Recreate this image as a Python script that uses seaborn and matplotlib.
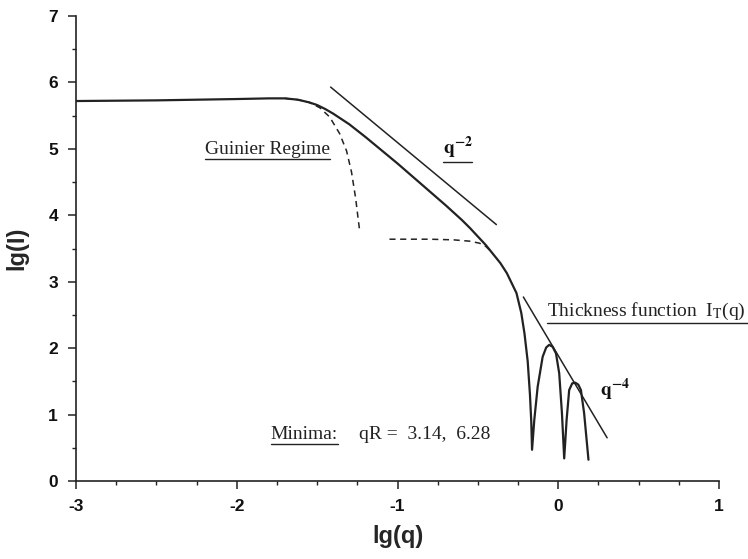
import matplotlib
matplotlib.use("Agg")
import matplotlib.pyplot as plt
import seaborn as sns
from matplotlib.ticker import MultipleLocator
from matplotlib.lines import Line2D

# full scattering curve
lgq_main = [-3.0, -2.5, -2.0, -1.8, -1.7, -1.62, -1.55, -1.5, -1.45, -1.4, -1.3, -1.2, -1.1, -1.0,
            -0.9, -0.8, -0.7, -0.65, -0.6, -0.55, -0.5, -0.45, -0.41, -0.36, -0.32, -0.29,
            -0.26, -0.23, -0.21, -0.19, -0.176, -0.168, -0.163,
            -0.149, -0.128, -0.097, -0.075, -0.056, -0.035, -0.014, 0.006, 0.023, 0.037,
            0.052, 0.068, 0.087, 0.106, 0.125, 0.141, 0.161, 0.188]
lgI_main = [5.72, 5.73, 5.75, 5.76, 5.76, 5.74, 5.70, 5.66, 5.60, 5.53, 5.37, 5.18, 4.98, 4.78,
            4.57, 4.36, 4.15, 4.04, 3.93, 3.81, 3.68, 3.55, 3.43, 3.28, 3.13, 2.98,
            2.83, 2.53, 2.22, 1.80, 1.30, 0.90, 0.47,
            0.92, 1.42, 1.87, 2.01, 2.05, 2.02, 1.92, 1.62, 1.02, 0.34,
            0.92, 1.37, 1.47, 1.48, 1.45, 1.37, 1.02, 0.32]

# Guinier approximation (dashed)
lgq_guinier = [-1.7, -1.62, -1.55, -1.484, -1.422, -1.36, -1.317, -1.286, -1.26, -1.245, -1.236]
lgI_guinier = [5.76, 5.74, 5.70, 5.62, 5.48, 5.23, 4.97, 4.65, 4.25, 3.95, 3.78]

# thickness function (dashed)
lgq_thick = [-1.05, -0.8, -0.65, -0.55, -0.49, -0.45, -0.42]
lgI_thick = [3.64, 3.64, 3.63, 3.61, 3.58, 3.53, 3.46]

# power law guide lines
lgq_q2 = [-1.416, -0.385]
lgI_q2 = [5.93, 3.86]
lgq_q4 = [-0.217, 0.304]
lgI_q4 = [2.77, 0.65]

sns.set_style("ticks")
plt.rcParams['font.family'] = ['Liberation Sans', 'DejaVu Sans']
plt.rcParams['mathtext.fontset'] = 'stix'
plt.rcParams['axes.unicode_minus'] = False

fig = plt.figure(figsize=(7.48, 5.59), dpi=100)
ax = fig.add_axes([76 / 748, 1 - 481 / 559, (719 - 76) / 748, (481 - 16) / 559])

sns.lineplot(x=lgq_main, y=lgI_main, ax=ax, sort=False, estimator=None,
             color='#222222', linewidth=1.6)
sns.lineplot(x=lgq_guinier, y=lgI_guinier, ax=ax, sort=False, estimator=None,
             color='#222222', linewidth=1.1, linestyle=(0, (4, 3)))
sns.lineplot(x=lgq_thick, y=lgI_thick, ax=ax, sort=False, estimator=None,
             color='#222222', linewidth=1.1, linestyle=(0, (4, 3)))
sns.lineplot(x=lgq_q2, y=lgI_q2, ax=ax, sort=False, estimator=None,
             color='#222222', linewidth=1.1)
sns.lineplot(x=lgq_q4, y=lgI_q4, ax=ax, sort=False, estimator=None,
             color='#222222', linewidth=1.1)

ax.set_xlim(-3, 1)
ax.set_ylim(0, 7)
ax.xaxis.set_major_locator(MultipleLocator(1))
ax.xaxis.set_minor_locator(MultipleLocator(0.25))
ax.yaxis.set_major_locator(MultipleLocator(1))
ax.yaxis.set_minor_locator(MultipleLocator(0.5))
ax.tick_params(which='major', length=6, width=1.1, color='#222222', pad=7,
               labelsize=12.5, labelcolor='#111111')
ax.tick_params(which='minor', length=3, width=1.0, color='#222222')
for lab in ax.get_xticklabels() + ax.get_yticklabels():
    lab.set_fontweight('bold')
sns.despine(ax=ax)
for s in ['left', 'bottom']:
    ax.spines[s].set_linewidth(1.2)
    ax.spines[s].set_color('#222222')

ax.set_xlabel('lg(q)', fontsize=17, fontweight='bold', labelpad=8)
ax.set_ylabel('lg(I)', fontsize=17, fontweight='bold', labelpad=14)

serif = ['Liberation Serif', 'DejaVu Serif']
t_guin = ax.text(-2.199, 4.92, 'Guinier Regime', family=serif, fontsize=14, color='#222222')
t_q2 = ax.text(-0.72, 4.92, r'$\mathbf{q^{-2}}$', fontsize=14, color='#111111')
t_thick = ax.text(-0.068, 2.485, r'Thickness function  I$_{\rm T}$(q)', family=serif,
                  fontsize=14, color='#222222', clip_on=False)
t_q4 = ax.text(0.26, 1.28, r'$\mathbf{q^{-4}}$', fontsize=14, color='#111111')
t_min = ax.text(-1.789, 0.63, 'Minima:', family=serif, fontsize=14, color='#222222')
ax.text(-1.242, 0.63, 'qR =  3.14,  6.28', family=serif, fontsize=14, color='#222222')

# underline some of the labels
fig.canvas.draw()
renderer = fig.canvas.get_renderer()


def underline(txt, x_end=None):
    bb = txt.get_window_extent(renderer)
    x0 = bb.x0 / fig.bbox.width
    x1 = (bb.x1 if x_end is None else x_end) / fig.bbox.width
    y = (bb.y0 - 1) / fig.bbox.height
    fig.add_artist(Line2D([x0, x1], [y, y], transform=fig.transFigure,
                          color='#222222', linewidth=1.0))


underline(t_guin)
underline(t_q2)
underline(t_thick, x_end=fig.bbox.width)
underline(t_min)

fig.savefig('out.png', dpi=100)
